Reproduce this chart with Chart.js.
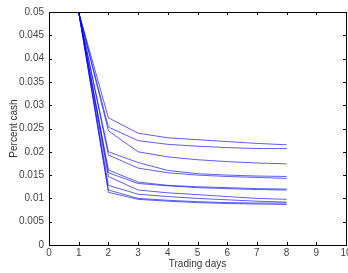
<!DOCTYPE html>
<html>
<head>
<meta charset="utf-8">
<script src="https://cdn.jsdelivr.net/npm/chart.js@4"></script>
<style>
  html, body { margin: 0; padding: 0; background: #fff; overflow: hidden; }
  #wrap { width: 358px; height: 273px; }
</style>
</head>
<body>
<div id="wrap"><canvas id="cashChart" width="358" height="273"></canvas></div>
<script>
// Trading days on the x axis
const days = [1, 2, 3, 4, 5, 6, 7, 8];

// Percent cash per run, one array per line
const run1 = [0.05, 0.0273, 0.0240, 0.0230, 0.0226, 0.0222, 0.0218, 0.0215];
const run2 = [0.05, 0.0253, 0.0224, 0.0216, 0.0212, 0.0209, 0.0207, 0.0207];
const run3 = [0.05, 0.0245, 0.0200, 0.0189, 0.0183, 0.0179, 0.0176, 0.0174];
const run4 = [0.05, 0.0200, 0.0177, 0.0160, 0.0153, 0.0150, 0.0148, 0.0147];
const run5 = [0.05, 0.0193, 0.0165, 0.0155, 0.0150, 0.0147, 0.0145, 0.0143];
const run6 = [0.05, 0.0161, 0.0135, 0.0128, 0.0125, 0.0123, 0.0121, 0.0120];
const run7 = [0.05, 0.0155, 0.0132, 0.0127, 0.0123, 0.0121, 0.0119, 0.0118];
const run8 = [0.05, 0.0147, 0.0118, 0.0112, 0.0108, 0.0104, 0.0100, 0.0098];
const run9 = [0.05, 0.0128, 0.0109, 0.0104, 0.0100, 0.0097, 0.0094, 0.0092];
const run10 = [0.05, 0.0118, 0.0100, 0.0096, 0.0093, 0.0091, 0.0090, 0.0090];
const run11 = [0.05, 0.0113, 0.0098, 0.0094, 0.0091, 0.0089, 0.0088, 0.0087];
const runs = [run1, run2, run3, run4, run5, run6, run7, run8, run9, run10, run11];

// Axis ticks
const xTicks = [0, 1, 2, 3, 4, 5, 6, 7, 8, 9, 10];
const yTicks = [0, 0.005, 0.01, 0.015, 0.02, 0.025, 0.03, 0.035, 0.04, 0.045, 0.05];

// Box around the axes plus inward tick marks on all four sides
const matlabBox = {
    id: 'matlabBox',
    afterDraw(chart) {
        const { ctx, chartArea: a, scales } = chart;
        ctx.save();
        ctx.strokeStyle = '#000';
        ctx.lineWidth = 1;
        ctx.beginPath();
        xTicks.forEach(v => {
            const px = Math.round(scales.x.getPixelForValue(v)) + 0.5;
            ctx.moveTo(px, a.bottom); ctx.lineTo(px, a.bottom - 3);
            ctx.moveTo(px, a.top); ctx.lineTo(px, a.top + 3);
        });
        yTicks.forEach(v => {
            const py = Math.round(scales.y.getPixelForValue(v)) + 0.5;
            ctx.moveTo(a.left, py); ctx.lineTo(a.left + 3, py);
            ctx.moveTo(a.right, py); ctx.lineTo(a.right - 3, py);
        });
        ctx.stroke();
        ctx.strokeRect(Math.round(a.left) + 0.5, Math.round(a.top) + 0.5,
            Math.round(a.right - a.left), Math.round(a.bottom - a.top));
        ctx.restore();
    }
};

const ctx = document.getElementById('cashChart').getContext('2d');
new Chart(ctx, {
    type: 'line',
    data: {
        datasets: runs.map((r, i) => ({
            label: 'Run ' + (i + 1),
            data: days.map((d, j) => ({ x: d, y: r[j] })),
            borderColor: 'rgba(0, 0, 255, 0.8)',
            borderWidth: 0.8,
            pointRadius: 0,
            tension: 0,
            fill: false
        }))
    },
    options: {
        responsive: false,
        animation: false,
        layout: { padding: { top: 12, right: 12, left: 0, bottom: 0 } },
        plugins: { legend: { display: false }, tooltip: { enabled: false } },
        scales: {
            x: {
                type: 'linear',
                min: 0, max: 10,
                afterBuildTicks: s => { s.ticks = xTicks.map(v => ({ value: v })); },
                afterFit: s => { s.height = 28; },
                grid: { display: false, drawTicks: false },
                border: { display: false },
                ticks: {
                    padding: 2,
                    color: '#444',
                    font: { family: 'Liberation Sans', size: 10 },
                    maxRotation: 0,
                    autoSkip: false
                },
                title: {
                    display: true,
                    text: 'Trading days',
                    color: '#333',
                    font: { family: 'Liberation Sans', size: 10 },
                    padding: { top: 0, bottom: 3 }
                }
            },
            y: {
                min: 0, max: 0.05,
                afterBuildTicks: s => { s.ticks = yTicks.map(v => ({ value: v })); },
                afterFit: s => { s.width = 49; },
                grid: { display: false, drawTicks: false },
                border: { display: false },
                ticks: {
                    padding: 5,
                    color: '#444',
                    font: { family: 'Liberation Sans', size: 10 },
                    autoSkip: false,
                    callback: v => String(+v.toFixed(3))
                },
                title: {
                    display: true,
                    text: 'Percent cash',
                    color: '#333',
                    font: { family: 'Liberation Sans', size: 10 },
                    padding: { top: 8, bottom: 0 }
                }
            }
        }
    },
    plugins: [matlabBox]
});
</script>
</body>
</html>
